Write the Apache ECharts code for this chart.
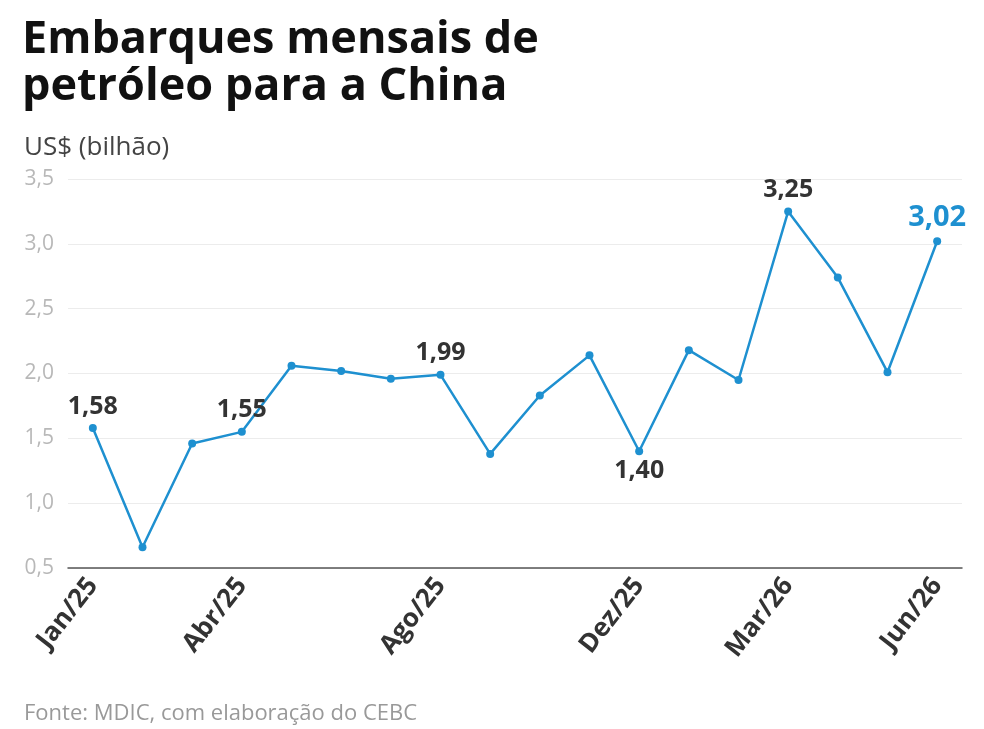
<!DOCTYPE html>
<html>
<head>
<meta charset="utf-8">
<script src="https://cdn.jsdelivr.net/npm/echarts@6/dist/echarts.min.js"></script>
<style>
    html, body { margin: 0; padding: 0; background: #fff; }
    #chart { width: 984px; height: 729px; }
</style>
</head>
<body>
<div id="chart"></div>
<script>
// meses (jan/25 a jun/26)
var meses = ['Jan/25', 'Fev/25', 'Mar/25', 'Abr/25', 'Mai/25', 'Jun/25', 'Jul/25', 'Ago/25', 'Set/25',
    'Out/25', 'Nov/25', 'Dez/25', 'Jan/26', 'Fev/26', 'Mar/26', 'Abr/26', 'Mai/26', 'Jun/26'];
// embarques em US$ bilhão
var valores = [1.58, 0.66, 1.46, 1.55, 2.06, 2.02, 1.96, 1.99, 1.38, 1.83, 2.14, 1.40, 2.18, 1.95, 3.25, 2.74, 2.01, 3.02];
// meses mostrados no eixo
var mesesVisiveis = ['Jan/25', 'Abr/25', 'Ago/25', 'Dez/25', 'Mar/26', 'Jun/26'];
// pontos com rotulo
var rotulosAcima = [0, 3, 7, 14, 17];
var rotulosAbaixo = [11];

var azul = '#1e90d0';
var fonte = '"Open Sans", "Noto Sans", sans-serif';

function fmt(v, d) {
    return v.toFixed(d).replace('.', ',');
}

var chart = echarts.init(document.getElementById('chart'));

var dados = valores.map(function (v, i) {
    var item = { value: v };
    var ultimo = i === valores.length - 1;
    var abaixo = rotulosAbaixo.indexOf(i) >= 0;
    if (rotulosAcima.indexOf(i) >= 0 || abaixo) {
        item.label = {
            show: true,
            position: abaixo ? 'bottom' : 'top',
            distance: abaixo ? 3 : 5,
            formatter: function (p) { return fmt(p.value, 2); },
            fontFamily: fonte,
            fontWeight: 'bold',
            fontSize: ultimo ? 29 : 25,
            color: ultimo ? azul : '#333'
        };
    }
    return item;
});

var option = {
    backgroundColor: '#fff',
    animation: false,
    title: [
        {
            text: 'Embarques mensais de\npetróleo para a China',
            left: 17,
            top: 12,
            textStyle: { fontFamily: fonte, fontWeight: 'bold', fontSize: 45, lineHeight: 47, color: '#111' }
        },
        {
            text: 'US$ (bilhão)',
            left: 19,
            top: 130,
            textStyle: { fontFamily: fonte, fontWeight: 'normal', fontSize: 26, color: '#444' }
        },
        {
            text: 'Fonte: MDIC, com elaboração do CEBC',
            left: 19,
            top: 698,
            textStyle: { fontFamily: fonte, fontWeight: 'normal', fontSize: 22, color: '#999' }
        }
    ],
    grid: {
        left: 68,
        right: 22,
        top: 179,
        bottom: 161,
        containLabel: false
    },
    xAxis: {
        type: 'category',
        data: meses,
        boundaryGap: true,
        axisLine: { lineStyle: { color: '#555', width: 1.5 } },
        axisTick: { show: false },
        axisLabel: {
            interval: function (i, v) { return mesesVisiveis.indexOf(v) >= 0; },
            rotate: 52,
            margin: 13,
            fontFamily: fonte,
            fontWeight: 'bold',
            fontSize: 26,
            color: '#333'
        }
    },
    yAxis: {
        type: 'value',
        min: 0.5,
        max: 3.5,
        interval: 0.5,
        axisLine: { show: false },
        axisTick: { show: false },
        splitLine: { lineStyle: { color: '#ececec', width: 1 } },
        axisLabel: {
            margin: 14,
            formatter: function (v) { return fmt(v, 1); },
            fontFamily: fonte,
            fontSize: 21,
            color: '#b8b8b8'
        }
    },
    series: [
        {
            type: 'line',
            data: dados,
            symbol: 'circle',
            symbolSize: 8,
            lineStyle: { color: azul, width: 2.5 },
            itemStyle: { color: azul },
            label: { show: false }
        }
    ]
};

chart.setOption(option);
</script>
</body>
</html>
